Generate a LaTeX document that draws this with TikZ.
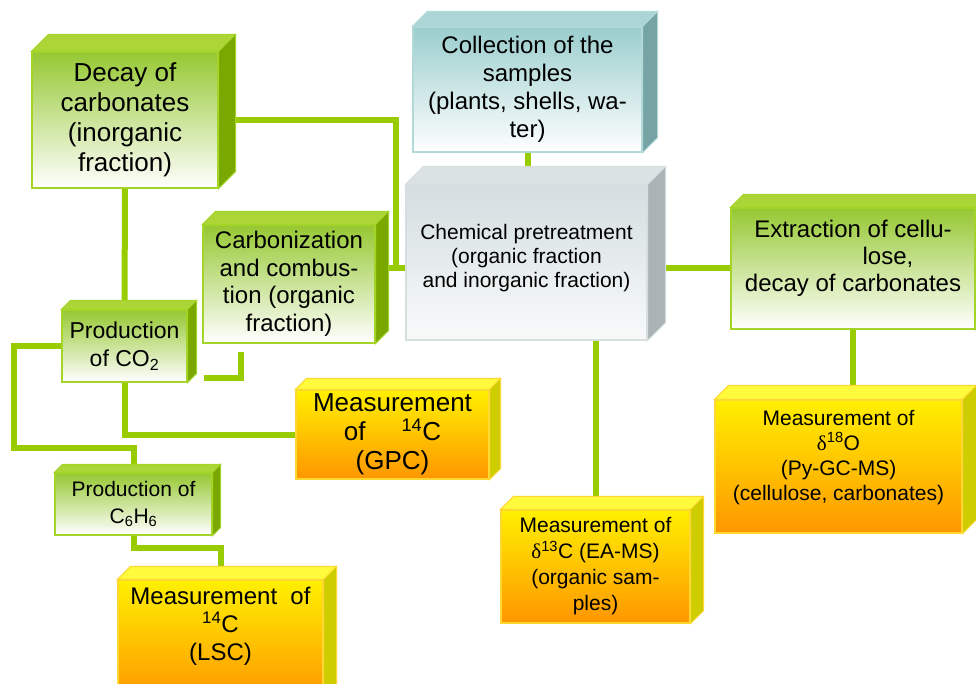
\documentclass[tikz,border=0pt]{standalone}
\usepackage{fontspec}
\setmainfont{Liberation Sans}
\newfontfamily\grk{Liberation Serif}
\usetikzlibrary{backgrounds}

\definecolor{lnk}{RGB}{153,204,0}
\definecolor{grtop}{RGB}{150,200,50}
\definecolor{grface}{RGB}{172,214,56}
\definecolor{grside}{RGB}{122,168,0}
\definecolor{grline}{RGB}{165,212,40}
\definecolor{tltop}{RGB}{155,205,205}
\definecolor{tlface}{RGB}{172,214,214}
\definecolor{tlside}{RGB}{118,164,164}
\definecolor{tlline}{RGB}{178,216,216}
\definecolor{gytop}{RGB}{212,222,224}
\definecolor{gybot}{RGB}{248,250,250}
\definecolor{gyface}{RGB}{218,226,228}
\definecolor{gyside}{RGB}{170,180,182}
\definecolor{gyline}{RGB}{215,222,224}
\definecolor{yltop}{RGB}{255,240,0}
\definecolor{ylbot}{RGB}{255,150,0}
\definecolor{ylface}{RGB}{255,250,60}
\definecolor{ylside}{RGB}{205,205,0}
\definecolor{ylline}{RGB}{255,215,50}

\newcommand\fsz[2]{\fontsize{#1}{#2}\selectfont}
\newcommand\dlt{{\grk δ}}

% top and side face of a box: node, depth, colour prefix
\newcommand\cubefaces[3]{%
  \filldraw[fill=#3face, draw=#3line, line width=1pt]
    (#1.north west) -- ++(#2,-#2) -- ([shift={(#2,-#2)}]#1.north east) -- (#1.north east) -- cycle;
  \filldraw[fill=#3side, draw=#3line, line width=1pt]
    (#1.north east) -- ++(#2,-#2) -- ([shift={(#2,-#2)}]#1.south east) -- (#1.south east) -- cycle;
}

\tikzset{
  front/.style={inner sep=0pt, align=center, line width=1.2pt},
  grbox/.style={front, draw=grline, top color=grtop, bottom color=white},
  tlbox/.style={front, draw=tlline, top color=tltop, bottom color=white},
  gybox/.style={front, draw=gyline, top color=gytop, bottom color=gybot},
  ylbox/.style={front, draw=ylline, top color=yltop, bottom color=ylbot},
  conn/.style={draw=lnk, line width=6pt},
}

\begin{document}
\begin{tikzpicture}[x=1pt, y=-1pt]
  \useasboundingbox (0,0) rectangle (976,684);
  \clip (0,0) rectangle (976,684);

  % preparation
  \node[grbox, minimum width=186pt, minimum height=136pt, font=\fsz{26}{30}] (decay) at (125,120)
    {Decay of\\carbonates\\(inorganic\\fraction)};
  \cubefaces{decay}{17}{gr}
  \node[tlbox, minimum width=229pt, minimum height=125pt, font=\fsz{24}{28}] (coll) at (527.5,89.5)
    {Collection of the\\samples\\(plants, shells, wa-\\ter)};
  \cubefaces{coll}{15}{tl}
  \node[gybox, minimum width=241pt, minimum height=155pt, font=\fsz{21}{24}, text depth=14pt] (chem) at (526.5,262.5)
    {Chemical pretreatment\\(organic fraction\\and inorganic fraction)};
  \cubefaces{chem}{18}{gy}
  \node[grbox, minimum width=172pt, minimum height=118pt, font=\fsz{24}{27.5}] (carb) at (289,284)
    {Carbonization\\and combus-\\tion (organic\\fraction)};
  \cubefaces{carb}{13}{gr}
  \node[grbox, minimum width=244pt, minimum height=121pt, font=\fsz{24}{27}, text depth=25pt] (extr) at (853,268.5)
    {Extraction of cellu-\\\hspace*{70pt}lose,\\decay of carbonates};
  \cubefaces{extr}{13}{gr}

  % benzene and co2
  \node[grbox, minimum width=125pt, minimum height=72pt, font=\fsz{23}{28}] (co2) at (124.5,346)
    {Production\\of CO\textsubscript{2}};
  \cubefaces{co2}{9}{gr}
  \node[grbox, minimum width=157pt, minimum height=62pt, font=\fsz{21}{27}] (c6h6) at (133.5,504)
    {Production of\\C\textsubscript{6}H\textsubscript{6}};
  \cubefaces{c6h6}{8}{gr}

  % measurements
  \node[ylbox, minimum width=193pt, minimum height=89pt, font=\fsz{26}{29}] (gpc) at (392.5,434.5)
    {Measurement\\of\hspace{36pt}\textsuperscript{14}C\\(GPC)};
  \cubefaces{gpc}{11}{yl}
  \node[ylbox, minimum width=205pt, minimum height=120pt, font=\fsz{24}{28}, text depth=33pt] (lsc) at (220.5,640)
    {Measurement~ of\\\textsuperscript{14}C\\(LSC)};
  \cubefaces{lsc}{13}{yl}
  \node[ylbox, minimum width=189pt, minimum height=113pt, font=\fsz{21}{26}] (mc13) at (595.5,566.5)
    {Measurement of\\\dlt\textsuperscript{13}C (EA-MS)\\(organic sam-\\ples)};
  \cubefaces{mc13}{13}{yl}
  \node[ylbox, minimum width=247pt, minimum height=133pt, font=\fsz{21}{25}, text depth=23pt] (mo18) at (838.5,466.5)
    {Measurement of\\\dlt\textsuperscript{18}O\\(Py-GC-MS)\\(cellulose, carbonates)};
  \cubefaces{mo18}{14}{yl}

  \coordinate (jn) at (396,268);
  \coordinate (lp) at (14,448);
  \coordinate (cb1) at (241,352);
  \coordinate (cb2) at (204,378);

  % links
  \begin{pgfonlayer}{background}
    \draw[conn] (decay.south) -- (co2.north);
    \draw[conn] (decay.east) -| (jn) -- (chem.west |- jn);
    \draw[conn] (carb.east |- jn) -- (jn);
    \draw[conn] (coll.south) -- (coll.south |- chem.north);
    \draw[conn] (chem.east |- jn) -- (extr.west |- jn);
    \draw[conn] (extr.south) -- (extr.south |- mo18.north);
    \draw[conn] (mc13.north |- chem.south) -- (mc13.north);
    \draw[conn] (cb1) |- (cb2);
    \draw[conn] (co2.south) |- (gpc.west);
    \draw[conn] (co2.west) -| (lp) -| (c6h6.north);
    \draw[conn] (c6h6.south) -- ++(0,12) -| (lsc.north);
  \end{pgfonlayer}
\end{tikzpicture}
\end{document}
